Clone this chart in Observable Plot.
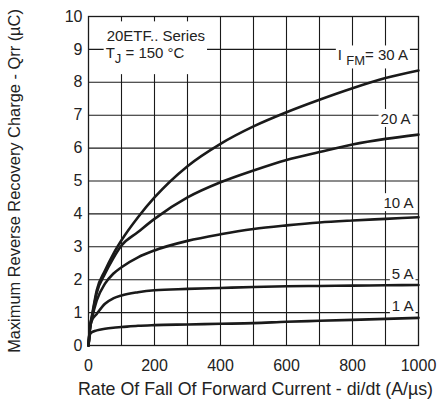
<!DOCTYPE html>
<html><head><meta charset="utf-8">
<script src="https://cdn.jsdelivr.net/npm/d3@7"></script>
<script src="https://cdn.jsdelivr.net/npm/@observablehq/plot@0.6"></script>
<style>body{margin:0;background:#fff}</style>
</head><body><div id="chart"></div>
<script>
// di/dt sample points (A/µs)
const xs   = [0, 5, 10, 25, 50, 75, 100, 150, 200, 300, 400, 500, 600, 700, 800, 900, 1000];
// Qrr (µC) per forward current
const q30A = [0, 0.6, 0.88, 1.68, 2.28, 2.78, 3.2, 3.9, 4.5, 5.45, 6.13, 6.66, 7.09, 7.47, 7.82, 8.13, 8.36];
const q20A = [0, 0.6, 0.85, 1.6, 2.18, 2.65, 3.04, 3.45, 3.85, 4.5, 4.96, 5.32, 5.64, 5.88, 6.11, 6.28, 6.41];
const q10A = [0, 0.55, 0.8, 1.37, 1.88, 2.18, 2.38, 2.68, 2.89, 3.18, 3.38, 3.54, 3.65, 3.74, 3.8, 3.85, 3.9];
const q5A  = [0, 0.55, 0.75, 0.96, 1.27, 1.43, 1.52, 1.62, 1.68, 1.72, 1.75, 1.78, 1.8, 1.81, 1.82, 1.83, 1.84];
const q1A  = [0, 0.35, 0.4, 0.46, 0.51, 0.54, 0.56, 0.6, 0.62, 0.64, 0.66, 0.68, 0.72, 0.75, 0.78, 0.81, 0.84];
const seriesNames = ["30 A", "20 A", "10 A", "5 A", "1 A"];
const seriesValues = [q30A, q20A, q10A, q5A, q1A];
const xTicks = [0, 200, 400, 600, 800, 1000];
const xGrid = [100, 200, 300, 400, 500, 600, 700, 800, 900];
const yTicks = [0, 1, 2, 3, 4, 5, 6, 7, 8, 9, 10];
const yGrid = [1, 2, 3, 4, 5, 6, 7, 8, 9];

const rows = [];
seriesNames.forEach((s, i) => xs.forEach((x, j) => rows.push({series: s, x, q: seriesValues[i][j]})));

const ink = "#1a1a1a";
const font = "Liberation Sans";

const chart = Plot.plot({
  width: 440, height: 411,
  marginLeft: 88, marginRight: 22, marginTop: 16, marginBottom: 66,
  style: {fontFamily: font, fontSize: "16px", color: "#222", background: "#fff"},
  x: {domain: [0, 1000], ticks: xTicks, tickFormat: d => String(d), label: null, tickSize: 0, tickPadding: 14},
  y: {domain: [0, 10], ticks: yTicks, tickFormat: d => String(d), label: null, tickSize: 0, tickPadding: 6},
  marks: [
    Plot.gridX(xGrid, {stroke: ink, strokeOpacity: 1, strokeWidth: 1.1}),
    Plot.gridY(yGrid, {stroke: ink, strokeOpacity: 1, strokeWidth: 1.1}),
    Plot.frame({stroke: ink, strokeWidth: 1.3}),
    Plot.line(rows, {x: "x", y: "q", z: "series", curve: "monotone-x", stroke: ink, strokeWidth: 2.6}),
    Plot.text([
      {x: 55, y: 9.39, t: "20ETF.. Series"},
      {x: 52, y: 8.88, t: "TJ = 150 °C"}
    ], {x: "x", y: "y", text: "t", textAnchor: "start", fontSize: 15, fill: "#222"}),
    Plot.text([
      {x: 968, y: 8.81, t: "IFM= 30 A"},
      {x: 976, y: 6.88, t: "20 A"},
      {x: 985, y: 4.32, t: "10 A"},
      {x: 985, y: 2.16, t: "5 A"},
      {x: 985, y: 1.19, t: "1 A"}
    ], {x: "x", y: "y", text: "t", textAnchor: "end", fontSize: 15, fill: "#222"}),
    Plot.text(["Rate Of Fall Of Forward Current - di/dt (A/µs)"],
      {text: d => d, frameAnchor: "bottom", textAnchor: "middle", dx: 2, dy: 49, fontSize: 17.8, fill: "#222"}),
    Plot.text(["Maximum Reverse Recovery Charge - Qrr (µC)"],
      {text: d => d, frameAnchor: "left", textAnchor: "middle", dx: -74, rotate: -90, fontSize: 16.4, fill: "#222"})
  ]
});
document.getElementById("chart").appendChild(chart);

// subscripts
function sub(el, main, s, rest) {
  const t = d3.select(el);
  t.text(null);
  t.append("tspan").text(main);
  t.append("tspan").attr("dy", 5).attr("font-size", 13).text(s);
  t.append("tspan").attr("dy", -5).text(rest);
}
const boxes = [];
d3.select(chart).selectAll("text").each(function() {
  const c = this.textContent;
  if (c === "TJ = 150 °C") { sub(this, "T", "J", " = 150 °C"); boxes.push({el: this, grp: "title"}); }
  else if (c === "20ETF.. Series") boxes.push({el: this, grp: "title"});
  else if (c === "IFM= 30 A") { sub(this, "I ", "FM", "= 30 A"); boxes.push({el: this, grp: "lab"}); }
  else if (["20 A", "10 A", "5 A", "1 A"].includes(c)) boxes.push({el: this, grp: "lab"});
});
function box(el) {
  const b = el.getBBox();
  const m = el.transform.baseVal.consolidate();
  const e = m ? m.matrix.e : 0, f = m ? m.matrix.f : 0;
  return {x0: b.x + e, y0: b.y + f, x1: b.x + b.width + e, y1: b.y + b.height + f};
}
const tb = boxes.filter(d => d.grp === "title");
if (tb.length) {
  const bs = tb.map(d => box(d.el));
  const x0 = d3.min(bs, d => d.x0) - 2, x1 = d3.max(bs, d => d.x1) + 2;
  const y0 = d3.min(bs, d => d.y0) - 6, y1 = d3.max(bs, d => d.y1) + 8;
  const g = tb[0].el.parentNode;
  d3.select(g).insert("rect", ":first-child").attr("x", x0).attr("y", y0)
    .attr("width", x1 - x0).attr("height", y1 - y0).attr("fill", "#fff");
}
boxes.filter(d => d.grp === "lab").forEach(d => {
  const b = box(d.el);
  d3.select(d.el.parentNode).insert("rect", () => d.el).attr("x", b.x0 - 2).attr("y", b.y0 - 1)
    .attr("width", b.x1 - b.x0 + 4).attr("height", b.y1 - b.y0 + 1).attr("fill", "#fff");
});
</script>
</body></html>
